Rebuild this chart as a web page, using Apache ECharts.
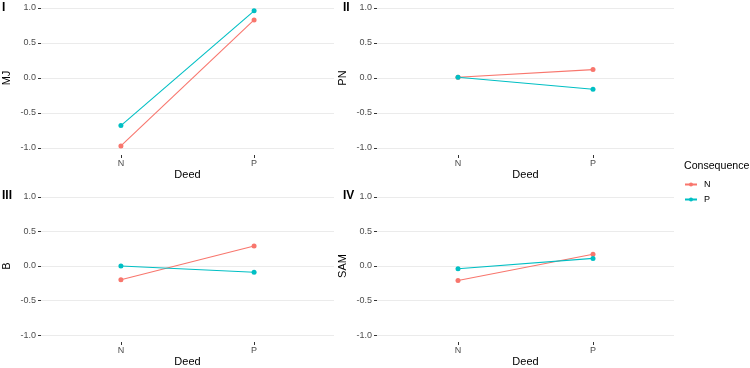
<!DOCTYPE html>
<html>
<head>
<meta charset="utf-8">
<script src="https://cdn.jsdelivr.net/npm/echarts@6/dist/echarts.min.js"></script>
<style>
  html, body { margin: 0; padding: 0; background: #fff; }
  #chart { width: 750px; height: 368px; }
</style>
</head>
<body>
<div id="chart"></div>
<script>
// categories on the x axis
const deeds = ["N", "P"];
const yTicks = [-1, -0.5, 0, 0.5, 1];
const groups = ["N", "P"];

// panel values, one array per consequence
const mjN = [-0.97, 0.83];
const mjP = [-0.68, 0.96];
const pnN = [0.01, 0.12];
const pnP = [0.01, -0.16];
const bN = [-0.20, 0.29];
const bP = [0.0, -0.09];
const samN = [-0.21, 0.17];
const samP = [-0.04, 0.11];

const panels = [
    { tag: "I", yName: "MJ", values: [mjN, mjP] },
    { tag: "II", yName: "PN", values: [pnN, pnP] },
    { tag: "III", yName: "B", values: [bN, bP] },
    { tag: "IV", yName: "SAM", values: [samN, samP] },
];

const colors = ["#F8766D", "#00BFC4"];
const font = "Liberation Sans, Arial, sans-serif";

const layout = [
    { left: 37, top: 1 },
    { left: 377, top: 1 },
    { left: 37, top: 190 },
    { left: 377, top: 190 },
];
const tagPos = [
    { left: 2, top: 2 },
    { left: 343, top: 2 },
    { left: 2, top: 190 },
    { left: 343, top: 190 },
];

const chart = echarts.init(document.getElementById("chart"));

const xIdx = deeds.map((d, i) => i + 1);

const option = {
    animation: false,
    backgroundColor: "#fff",
    color: colors,
    textStyle: { fontFamily: font },
    title: [
        ...panels.map((p, i) => ({
            text: p.tag,
            left: tagPos[i].left,
            top: tagPos[i].top,
            padding: 0,
            textStyle: { fontSize: 12, fontWeight: "bold", color: "#000", fontFamily: font },
        })),
        {
            text: "Consequence",
            left: 684,
            top: 161,
            padding: 0,
            textStyle: { fontSize: 10.6, fontWeight: "normal", color: "#000", fontFamily: font },
        },
    ],
    legend: {
        data: groups,
        orient: "vertical",
        left: 684,
        top: 180,
        padding: 0,
        itemWidth: 12,
        itemHeight: 5,
        itemGap: 6,
        textStyle: { fontSize: 9, color: "#000", fontFamily: font, padding: [0, 0, 0, 2] },
    },
    grid: layout.map((l) => ({ left: l.left, top: l.top, width: 297, height: 154 })),
    xAxis: panels.map((p, i) => ({
        type: "value",
        gridIndex: i,
        min: 0.4,
        max: 2.6,
        name: "Deed",
        nameLocation: "middle",
        nameGap: 14,
        nameTextStyle: { fontSize: 11, color: "#000" },
        axisLine: { show: false, onZero: false },
        splitLine: { show: false },
        axisTick: { show: true, customValues: xIdx, length: 3, lineStyle: { color: "#333" } },
        axisLabel: {
            customValues: xIdx,
            margin: 4,
            fontSize: 9,
            color: "#4D4D4D",
            formatter: (v) => deeds[Math.round(v) - 1],
        },
    })),
    yAxis: panels.map((p, i) => ({
        type: "value",
        gridIndex: i,
        min: -1.1,
        max: 1.1,
        name: p.yName,
        nameLocation: "middle",
        nameGap: 29,
        nameTextStyle: { fontSize: 11, color: "#000" },
        axisLine: { show: false, onZero: false },
        axisTick: { show: true, customValues: yTicks, length: 3, lineStyle: { color: "#333" } },
        axisLabel: {
            customValues: yTicks,
            margin: 5,
            fontSize: 9,
            color: "#4D4D4D",
            formatter: (v) => v.toFixed(1),
        },
        splitLine: { show: true, lineStyle: { color: "#EBEBEB", width: 1 } },
    })),
    series: panels.flatMap((p, i) =>
        groups.map((g, j) => ({
            name: g,
            type: "line",
            xAxisIndex: i,
            yAxisIndex: i,
            symbol: "circle",
            symbolSize: 5,
            lineStyle: { width: 1.1 },
            itemStyle: { color: colors[j] },
            data: p.values[j].map((v, k) => [xIdx[k], v]),
        }))
    ),
};

chart.setOption(option);
</script>
</body>
</html>
